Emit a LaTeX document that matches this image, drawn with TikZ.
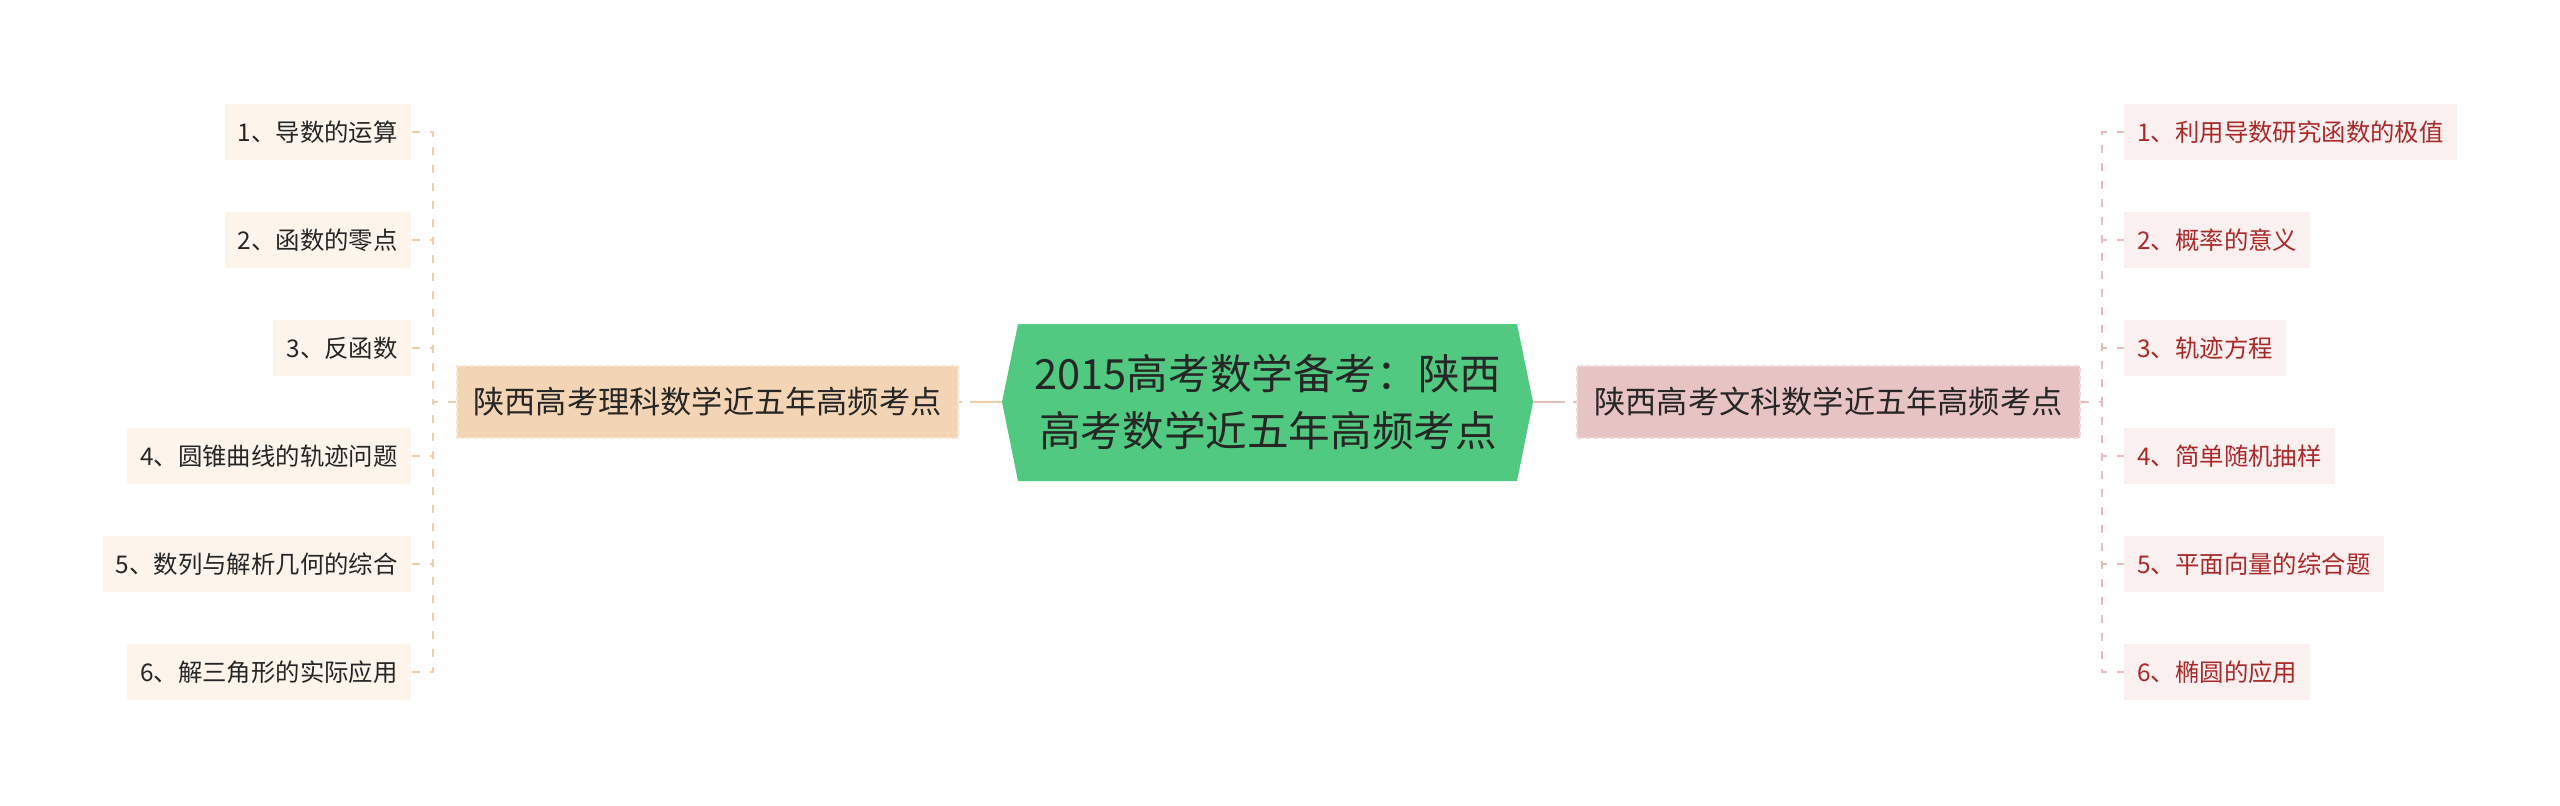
\documentclass[tikz,border=0pt]{standalone}
\usepackage{fontspec}
\setmainfont{Noto Sans CJK SC}
\definecolor{cgreen}{RGB}{82,201,128}
\definecolor{ctext}{RGB}{38,38,38}
\definecolor{lbfill}{RGB}{243,213,181}
\definecolor{lbdraw}{RGB}{248,230,208}
\definecolor{rbfill}{RGB}{232,195,195}
\definecolor{rbdraw}{RGB}{242,218,218}
\definecolor{llfill}{RGB}{253,245,236}
\definecolor{rlfill}{RGB}{250,240,240}
\definecolor{rltext}{RGB}{170,40,40}
\definecolor{lcol}{RGB}{236,206,172}
\definecolor{rcol}{RGB}{228,190,190}
\tikzset{
  branchbox/.style={minimum height=36pt, inner xsep=8pt, inner ysep=0pt, text=ctext,
    font=\fontsize{15.6pt}{18pt}\selectfont, line width=0.8pt, dash pattern=on 2.5pt off 1.5pt},
  lbranch/.style={branchbox, fill=lbfill, draw=lbdraw, minimum width=250.5pt},
  rbranch/.style={branchbox, fill=rbfill, draw=rbdraw, minimum width=251.5pt},
  leafbox/.style={minimum height=28pt, inner xsep=6.5pt, inner ysep=0pt,
    font=\fontsize{12.2pt}{14pt}\selectfont},
  lleaf/.style={leafbox, fill=llfill, text=ctext, anchor=east},
  rleaf/.style={leafbox, fill=rlfill, text=rltext, anchor=west},
  mainl/.style={draw=lcol, line width=1.4pt, dash pattern=on 16pt off 4pt},
  mainr/.style={draw=rcol, line width=1.4pt, dash pattern=on 16pt off 4pt},
  lcon/.style={draw=lcol, line width=0.9pt, dash pattern=on 4pt off 5pt},
  rcon/.style={draw=rcol, line width=0.9pt, dash pattern=on 4pt off 5pt},
}
\begin{document}
\begin{tikzpicture}[x=0.5pt,y=-0.5pt]
\useasboundingbox (0,0) rectangle (2560,805);
% central hexagon
\coordinate (cw) at (1002,402);
\coordinate (ce) at (1533,402);
\fill[cgreen] (cw) -- (1018,324) -- (1517,324) -- (ce) -- (1517,481) -- (1018,481) -- cycle;
\node[text=ctext, align=center, font=\fontsize{20.8pt}{28.5pt}\selectfont] (center) at (1268,402)
  {2015高考数学备考：陕西\\高考数学近五年高频考点};
% branches
\node[lbranch] (lb) at (707.5,402) {陕西高考理科数学近五年高频考点};
\node[rbranch] (rb) at (1828.5,402) {陕西高考文科数学近五年高频考点};
\draw[mainl] (cw) -- (lb.east);
\draw[mainr] (ce) -- (rb.west);
% left leaves
\node[lleaf] (l1) at (411,132) {1、导数的运算};
\node[lleaf] (l2) at (411,240) {2、函数的零点};
\node[lleaf] (l3) at (411,348) {3、反函数};
\node[lleaf] (l4) at (411,456) {4、圆锥曲线的轨迹问题};
\node[lleaf] (l5) at (411,564) {5、数列与解析几何的综合};
\node[lleaf] (l6) at (411,672) {6、解三角形的实际应用};
% right leaves
\node[rleaf] (r1) at (2124,132) {1、利用导数研究函数的极值};
\node[rleaf] (r2) at (2124,240) {2、概率的意义};
\node[rleaf] (r3) at (2124,348) {3、轨迹方程};
\node[rleaf] (r4) at (2124,456) {4、简单随机抽样};
\node[rleaf] (r5) at (2124,564) {5、平面向量的综合题};
\node[rleaf] (r6) at (2124,672) {6、椭圆的应用};
% trunks
\coordinate (lt) at (433,402);
\coordinate (rt) at (2102,402);
\foreach \n in {l1,l2,l3,l4,l5,l6}{
  \draw[lcon] (lb.west) -- (lt) |- (\n.east);
}
\foreach \n in {r1,r2,r3,r4,r5,r6}{
  \draw[rcon] (rb.east) -- (rt) |- (\n.west);
}
\end{tikzpicture}
\end{document}
